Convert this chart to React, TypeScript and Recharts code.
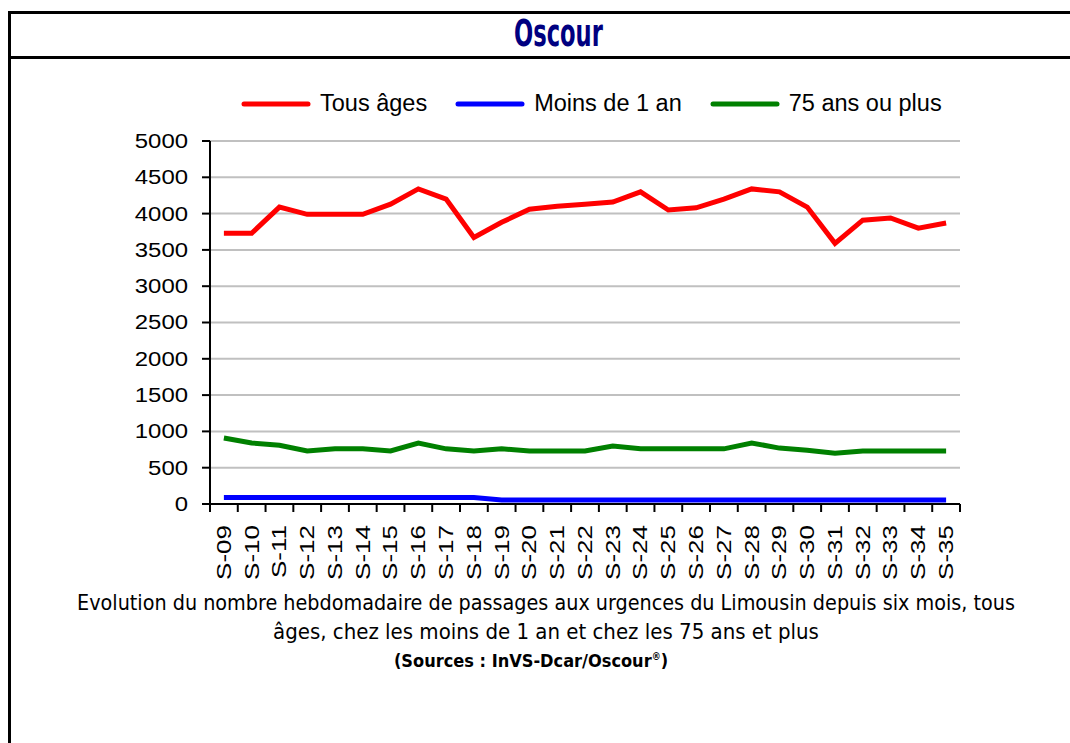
import { LineChart, Line, XAxis, YAxis, CartesianGrid, Legend } from 'recharts';

const weeks = [
    'S-09', 'S-10', 'S-11', 'S-12', 'S-13', 'S-14', 'S-15', 'S-16', 'S-17', 'S-18',
    'S-19', 'S-20', 'S-21', 'S-22', 'S-23', 'S-24', 'S-25', 'S-26', 'S-27', 'S-28',
    'S-29', 'S-30', 'S-31', 'S-32', 'S-33', 'S-34', 'S-35',
];

const tousAges = [
    3730, 3730, 4090, 3990, 3990, 3990, 4130, 4340, 4200, 3670,
    3880, 4060, 4100, 4130, 4160, 4300, 4050, 4080, 4200, 4340,
    4300, 4090, 3590, 3910, 3940, 3800, 3870,
];

const moinsUnAn = [
    90, 90, 90, 90, 90, 90, 90, 90, 90, 90,
    55, 55, 55, 55, 55, 55, 55, 55, 55, 55,
    55, 55, 55, 55, 55, 55, 55,
];

const plus75 = [
    910, 840, 810, 730, 760, 760, 730, 840, 760, 730,
    760, 730, 730, 730, 800, 760, 760, 760, 760, 840,
    770, 740, 700, 730, 730, 730, 730,
];

const seriesNames = ['Tous âges', 'Moins de 1 an', '75 ans ou plus'];

const yTicks = [0, 500, 1000, 1500, 2000, 2500, 3000, 3500, 4000, 4500, 5000];

const data = weeks.map((week, i) => ({
    week,
    tous: tousAges[i],
    moins1: moinsUnAn[i],
    plus75: plus75[i],
}));

// plot area 210..960, 27 categories
const HALF = 750 / 27 / 2;
const condensed = "'Liberation Sans Narrow', 'DejaVu Sans Condensed', Arial, sans-serif";

const XTick = (props: any) => {
    const { x, y, payload, index } = props;
    return (
        <g>
            {index === 0 && (
                <line x1={x - HALF} x2={x - HALF} y1={y} y2={y + 8} stroke="#000" strokeWidth={2} />
            )}
            <line x1={x + HALF} x2={x + HALF} y1={y} y2={y + 8} stroke="#000" strokeWidth={2} />
            <text
                transform={`translate(${x},${y + 21}) rotate(-90) scale(1.3,1)`}
                textAnchor="end"
                dominantBaseline="central"
                fontSize={20}
                fill="#000">
                {payload.value}
            </text>
        </g>
    );
};

const YTick = (props: any) => {
    const { x, y, payload } = props;
    return (
        <text
            transform={`translate(${x},${y}) scale(1.14,1)`}
            textAnchor="end"
            dominantBaseline="central"
            fontSize={21}
            fill="#000">
            {payload.value}
        </text>
    );
};

const LegendContent = (props: any) => {
    const items = [...(props.payload || [])].sort(
        (a: any, b: any) => seriesNames.indexOf(a.value) - seriesNames.indexOf(b.value)
    );
    return (
        <div style={{ display: 'flex', alignItems: 'center', fontSize: 23.5, color: '#000' }}>
            {items.map((item: any, i: number) => (
                <div key={i} style={{ display: 'flex', alignItems: 'center', marginRight: 28 }}>
                    <svg width={70} height={10} style={{ marginRight: 9 }}>
                        <line x1={3} x2={67} y1={5} y2={5} stroke={item.color} strokeWidth={5} strokeLinecap="round" />
                    </svg>
                    <span>{item.value}</span>
                </div>
            ))}
        </div>
    );
};

const App = () => (
    <div
        style={{
            position: 'absolute',
            left: 0,
            top: 0,
            width: 1070,
            height: 743,
            overflow: 'hidden',
            background: '#fff',
            fontFamily: 'Arial, "Liberation Sans", sans-serif',
        }}>
        <div
            style={{
                position: 'absolute',
                left: 8,
                top: 11,
                width: 1080,
                height: 760,
                border: '3px solid #000',
                boxSizing: 'border-box',
            }}
        />
        <div style={{ position: 'absolute', left: 8, top: 56, width: 1080, height: 3, background: '#000' }} />
        <div
            style={{
                position: 'absolute',
                left: 0,
                top: 12,
                width: 1116,
                textAlign: 'center',
                fontFamily: condensed,
                fontWeight: 'bold',
                fontSize: 37,
                color: '#000080',
            }}>
            <span style={{ display: 'inline-block', transform: 'scaleX(0.68)' }}>Oscour</span>
        </div>

        <div style={{ position: 'absolute', left: 0, top: 0 }}>
            <LineChart
                width={1000}
                height={600}
                data={data}
                margin={{ top: 141, right: 40, bottom: 6, left: 130 }}>
                <CartesianGrid vertical={false} stroke="#c0c0c0" strokeWidth={2} />
                <XAxis
                    dataKey="week"
                    interval={0}
                    padding={{ left: HALF, right: HALF }}
                    height={90}
                    tickLine={false}
                    tickSize={0}
                    tickMargin={0}
                    axisLine={{ stroke: '#000', strokeWidth: 2 }}
                    tick={<XTick />}
                />
                <YAxis
                    domain={[0, 5000]}
                    ticks={yTicks}
                    width={80}
                    tickSize={8}
                    tickMargin={14}
                    tickLine={{ stroke: '#000', strokeWidth: 2 }}
                    axisLine={{ stroke: '#000', strokeWidth: 2 }}
                    tick={<YTick />}
                />
                <Legend
                    layout="horizontal"
                    verticalAlign="middle"
                    wrapperStyle={{ position: 'absolute', top: 90, left: 241, width: 'auto' }}
                    content={<LegendContent />}
                />
                <Line type="linear" dataKey="tous" name={seriesNames[0]} stroke="#ff0000" strokeWidth={5} dot={false} isAnimationActive={false} />
                <Line type="linear" dataKey="moins1" name={seriesNames[1]} stroke="#0000ff" strokeWidth={5} dot={false} isAnimationActive={false} />
                <Line type="linear" dataKey="plus75" name={seriesNames[2]} stroke="#008000" strokeWidth={5} dot={false} isAnimationActive={false} />
            </LineChart>
        </div>

        <div
            style={{
                position: 'absolute',
                left: 0,
                top: 588,
                width: 1092,
                textAlign: 'center',
                fontFamily: condensed,
                fontSize: 22,
                color: '#000',
                lineHeight: '29px',
            }}>
            <div style={{ transform: 'scaleX(0.97)' }}>
                Evolution du nombre hebdomadaire de passages aux urgences du Limousin depuis six mois, tous
            </div>
            <div>âges, chez les moins de 1 an et chez les 75 ans et plus</div>
            <div style={{ fontWeight: 'bold', fontSize: 18, lineHeight: '22px', marginLeft: -30 }}>
                (Sources : InVS-Dcar/Oscour<sup style={{ fontSize: 10 }}>®</sup>)
            </div>
        </div>
    </div>
);

export default App;
